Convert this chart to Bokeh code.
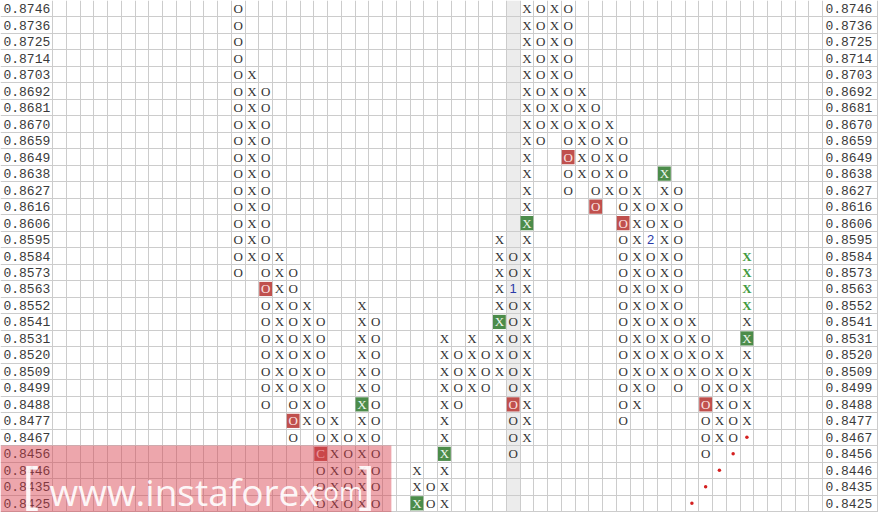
from bokeh.plotting import figure
from bokeh.models import Range1d, Grid, FixedTicker
from bokeh.core.properties import value
from bokeh.embed import file_html
from bokeh.resources import INLINE

# ---------------- data ----------------
prices = ["0.8746", "0.8736", "0.8725", "0.8714", "0.8703", "0.8692", "0.8681",
          "0.8670", "0.8659", "0.8649", "0.8638", "0.8627", "0.8616", "0.8606",
          "0.8595", "0.8584", "0.8573", "0.8563", "0.8552", "0.8541", "0.8531",
          "0.8520", "0.8509", "0.8499", "0.8488", "0.8477", "0.8467", "0.8456",
          "0.8446", "0.8435", "0.8425"]

col_index = [13, 14, 15, 16, 17, 18, 19, 20, 21, 22, 23, 26, 27, 28, 29, 30, 31,
             32, 33, 34, 35, 36, 37, 38, 39, 40, 41, 42, 43, 44, 45, 46, 47, 48,
             49, 50]
col_kind = ["O", "X", "O", "X", "O", "X", "O", "X", "O", "X", "O", "X", "O", "X",
            "O", "X", "O", "X", "O", "X", "O", "X", "O", "X", "O", "X", "O", "X",
            "O", "X", "O", "X", "O", "X", "O", "X"]
col_high = ["0.8746", "0.8703", "0.8692", "0.8584", "0.8573", "0.8552", "0.8541",
            "0.8477", "0.8467", "0.8552", "0.8541", "0.8446", "0.8435", "0.8531",
            "0.8520", "0.8531", "0.8520", "0.8595", "0.8584", "0.8746", "0.8746",
            "0.8746", "0.8746", "0.8692", "0.8681", "0.8670", "0.8659", "0.8627",
            "0.8616", "0.8638", "0.8627", "0.8541", "0.8531", "0.8520", "0.8509",
            "0.8541"]
col_low = ["0.8573", "0.8584", "0.8488", "0.8499", "0.8467", "0.8477", "0.8425",
           "0.8425", "0.8425", "0.8425", "0.8425", "0.8425", "0.8425", "0.8425",
           "0.8488", "0.8499", "0.8499", "0.8509", "0.8456", "0.8467", "0.8659",
           "0.8670", "0.8627", "0.8638", "0.8616", "0.8627", "0.8477", "0.8488",
           "0.8499", "0.8509", "0.8499", "0.8509", "0.8456", "0.8467", "0.8467",
           "0.8477"]

red_cells_col = [15, 17, 19, 33, 37, 39, 41, 47]
red_cells_price = ["0.8563", "0.8477", "0.8456", "0.8488", "0.8649", "0.8616", "0.8606", "0.8488"]
red_cells_text = ["O", "O", "C", "O", "O", "O", "O", "O"]

green_cells_col = [22, 26, 28, 32, 34, 44, 50]
green_cells_price = ["0.8488", "0.8425", "0.8456", "0.8541", "0.8606", "0.8638", "0.8531"]

mark_col = [33, 43]
mark_price = ["0.8563", "0.8595"]
mark_text = ["1", "2"]

target_col = [50, 50, 50, 50]
target_price = ["0.8584", "0.8573", "0.8563", "0.8552"]

trend_col = [50, 49, 48, 47, 46]
trend_price = ["0.8467", "0.8456", "0.8446", "0.8435", "0.8425"]

shaded_col = 33
n_cols = 56

# ---------------- geometry ----------------
CW, CH = 14.0, 17.0            # reference cell size in px
LEFT_W, RIGHT_W = 53.0, 57.0   # label column widths in px
x0 = -0.5 - LEFT_W / CW
x1 = n_cols - 0.5 + RIGHT_W / CW
y_top = -0.5
y_bot = len(prices) - 0.5 + 1.0 / CH

row_of = {pr: i for i, pr in enumerate(prices)}
SYM_FONT = value("Liberation Serif")
LAB_FONT = value("Liberation Mono")

p = figure(width=878, height=512, output_backend="svg", toolbar_location=None,
           x_range=Range1d(x0, x1), y_range=Range1d(y_bot, y_top),
           x_axis_type=None, y_axis_type=None, min_border=0,
           background_fill_color="white", border_fill_color="white")
p.outline_line_color = None

# shaded column (under grid)
p.quad(left=[shaded_col - 0.5], right=[shaded_col + 0.5], top=[y_top], bottom=[y_bot],
       fill_color="#ececec", line_color=None, level="image")

# grid
p.add_layout(Grid(dimension=0, ticker=FixedTicker(ticks=[c - 0.5 for c in range(n_cols + 1)] + [x1 - 0.04]),
                  grid_line_color="#cccccc", grid_line_width=1))
p.add_layout(Grid(dimension=1, ticker=FixedTicker(ticks=[r - 0.5 for r in range(len(prices) + 1)]),
                  grid_line_color="#cccccc", grid_line_width=1))

# price labels
lab_y = list(range(len(prices)))
p.text(x=[x0 + 3 / CW] * len(prices), y=lab_y, text=prices, text_align="left",
       text_baseline="middle", text_font=LAB_FONT,
       text_font_size="13px", text_color="#3a3a3a")
p.text(x=[n_cols - 0.5 + 3 / CW] * len(prices), y=lab_y, text=prices, text_align="left",
       text_baseline="middle", text_font=LAB_FONT,
       text_font_size="13px", text_color="#3a3a3a")

# special cells
red_set = {(c, row_of[pr]) for c, pr in zip(red_cells_col, red_cells_price)}
green_set = {(c, row_of[pr]) for c, pr in zip(green_cells_col, green_cells_price)}
mark_set = {(c, row_of[pr]) for c, pr in zip(mark_col, mark_price)}

nx, ny, nt = [], [], []
for c, k, hi, lo in zip(col_index, col_kind, col_high, col_low):
    for r in range(row_of[hi], row_of[lo] + 1):
        if (c, r) in red_set or (c, r) in green_set or (c, r) in mark_set:
            continue
        nx.append(c); ny.append(r); nt.append(k)

p.text(x=nx, y=ny, text=nt, text_align="center", text_baseline="middle",
       text_font=SYM_FONT, text_font_size="13px", text_color="#333333")

# red boxes
rx = list(red_cells_col)
ry = [row_of[pr] for pr in red_cells_price]
p.rect(x=rx, y=ry, width=0.93, height=0.86, fill_color="#c0504d", line_color=None)
p.text(x=rx, y=ry, text=red_cells_text, text_align="center", text_baseline="middle",
       text_font=SYM_FONT, text_font_size="13px", text_color="#fbe3e3")

# green boxes
gx = list(green_cells_col)
gy = [row_of[pr] for pr in green_cells_price]
p.rect(x=gx, y=gy, width=0.93, height=0.86, fill_color="#4c8c4a", line_color=None)
p.text(x=gx, y=gy, text=["X"] * len(gx), text_align="center", text_baseline="middle",
       text_font=SYM_FONT, text_font_size="13px", text_color="#eef6ee")

# month marks
p.text(x=mark_col, y=[row_of[pr] for pr in mark_price], text=mark_text, text_align="center",
       text_baseline="middle", text_font=value("Liberation Sans"), text_font_size="13px",
       text_color="#2a3aa8")

# projected target
p.text(x=target_col, y=[row_of[pr] for pr in target_price], text=["X"] * len(target_col),
       text_align="center", text_baseline="middle", text_font=SYM_FONT,
       text_font_size="13px", text_font_style="bold", text_color="#3f9a3f")

# trend line dots
p.scatter(x=trend_col, y=[row_of[pr] for pr in trend_price], size=3.5,
          fill_color="#d42020", line_color=None)

# watermark
wm_left = x0
wm_right = x0 + 398 / CW
wm_top = 26.5
p.quad(left=[wm_left], right=[wm_right], top=[wm_top], bottom=[y_bot],
       fill_color="#d83a46", fill_alpha=0.45, line_color=None)
px = lambda v: x0 + v / CW
py = lambda v: v / CH - 0.5
p.text(x=[px(22)], y=[py(497)], text=["["], text_align="left", text_baseline="middle",
       text_font=value("Open Sans"), text_font_size="52px", text_color="white", text_alpha=0.9)
p.text(x=[px(50)], y=[py(506)], text=["www.instaforex"], text_align="left",
       text_baseline="alphabetic", text_font=value("Open Sans"), text_font_size="37px",
       text_color="white", text_alpha=0.92)
p.text(x=[px(309)], y=[py(506)], text=[".com"], text_align="left",
       text_baseline="alphabetic", text_font=value("Open Sans"), text_font_size="26px",
       text_color="white", text_alpha=0.92)
p.text(x=[px(364)], y=[py(497)], text=["]"], text_align="left", text_baseline="middle",
       text_font=value("Open Sans"), text_font_size="52px", text_color="white", text_alpha=0.9)

open("out.html", "w").write(file_html(p, INLINE))
